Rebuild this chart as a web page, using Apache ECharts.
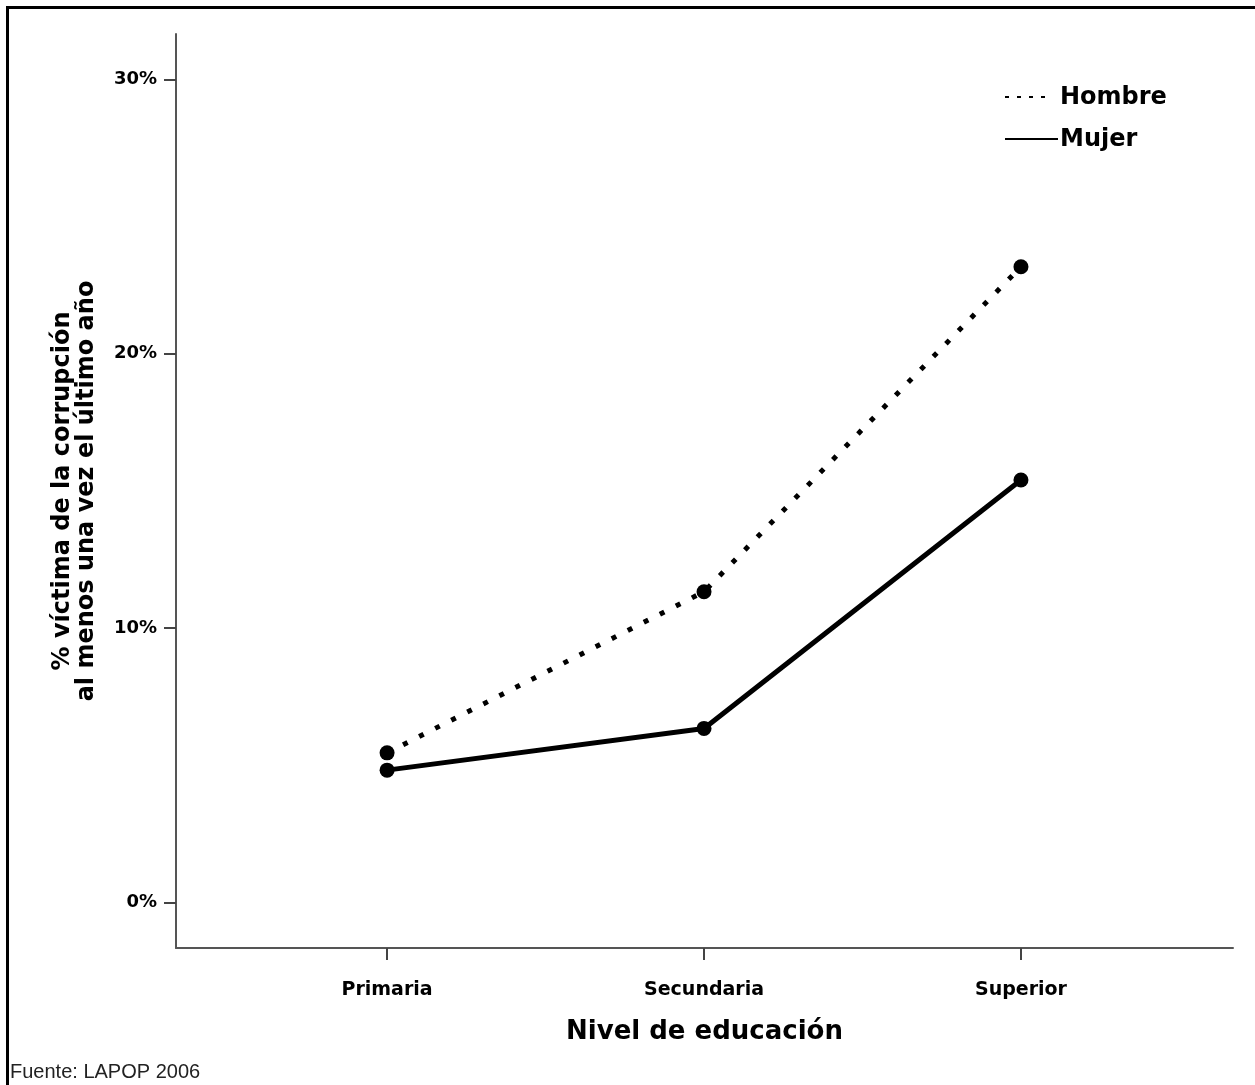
<!DOCTYPE html>
<html>
<head>
<meta charset="utf-8">
<script src="https://cdn.jsdelivr.net/npm/echarts@6/dist/echarts.min.js"></script>
<style>
html,body{margin:0;padding:0;background:#fff;}
#chart{width:1255px;height:1085px;}
</style>
</head>
<body>
<div id="chart"></div>
<script>
const categories = ['Primaria', 'Secundaria', 'Superior'];
const hombre = [5.46, 11.33, 23.17];
const mujer = [4.83, 6.35, 15.40];
const yTicks = [0, 10, 20, 30];
const seriesNames = ['Hombre', 'Mujer'];

const chart = echarts.init(document.getElementById('chart'));
const toPts = arr => arr.map((v, i) => [i, v]);
const heavy = '"DejaVu Sans", "Liberation Sans", sans-serif';

chart.setOption({
  backgroundColor: '#fff',
  animation: false,
  grid: { left: 176, right: 22, top: 34, bottom: 137 },
  xAxis: {
    type: 'value',
    min: -0.666, max: 2.669,
    splitLine: { show: false },
    axisLine: { show: true, onZero: false, lineStyle: { color: '#555', width: 2 } },
    axisTick: { show: true, length: 12, customValues: [0, 1, 2], lineStyle: { color: '#444', width: 2 } },
    axisLabel: {
      customValues: [0, 1, 2],
      formatter: v => categories[Math.round(v)] || '',
      margin: 33, color: '#000', fontSize: 19, fontWeight: 'bold',
      fontFamily: heavy
    },
    name: 'Nivel de educación',
    nameLocation: 'middle', nameGap: 71,
    nameTextStyle: { color: '#000', fontSize: 26, fontWeight: 900, fontFamily: heavy }
  },
  yAxis: {
    type: 'value',
    min: -1.65, max: 31.65,
    splitLine: { show: false },
    axisLine: { show: true, onZero: false, lineStyle: { color: '#555', width: 2 } },
    axisTick: { show: true, length: 12, customValues: yTicks, lineStyle: { color: '#444', width: 2 } },
    axisLabel: {
      customValues: yTicks,
      formatter: v => v + '%',
      margin: 19, color: '#000', fontSize: 18, fontWeight: 'bold',
      fontFamily: heavy, padding: [4, 0, 0, 0]
    },
    name: '% víctima de la corrupción\nal menos una vez el último año',
    nameLocation: 'middle', nameGap: 77,
    nameTextStyle: { color: '#000', fontSize: 24, fontWeight: 900, fontFamily: heavy, lineHeight: 24 }
  },
  series: [
    {
      name: seriesNames[0], type: 'line', data: toPts(hombre),
      symbol: 'circle', symbolSize: 15,
      itemStyle: { color: '#000' },
      lineStyle: { color: '#000', width: 5, type: [5, 13], cap: 'butt' }
    },
    {
      name: seriesNames[1], type: 'line', data: toPts(mujer),
      symbol: 'circle', symbolSize: 15,
      itemStyle: { color: '#000' },
      lineStyle: { color: '#000', width: 5, type: 'solid' }
    }
  ],
  graphic: [
    { type: 'rect', shape: { x: 6, y: 6, width: 1249, height: 3 }, style: { fill: '#000' } },
    { type: 'rect', shape: { x: 6, y: 6, width: 3, height: 1079 }, style: { fill: '#000' } },
    { type: 'line', shape: { x1: 1005, y1: 97, x2: 1050, y2: 97 }, style: { stroke: '#000', lineWidth: 2, lineDash: [4, 8] } },
    { type: 'text', x: 1060, y: 98, style: { text: seriesNames[0], fill: '#000', font: '900 24px "DejaVu Sans", sans-serif', textVerticalAlign: 'middle' } },
    { type: 'line', shape: { x1: 1005, y1: 139, x2: 1058, y2: 139 }, style: { stroke: '#000', lineWidth: 2 } },
    { type: 'text', x: 1060, y: 140, style: { text: seriesNames[1], fill: '#000', font: '900 24px "DejaVu Sans", sans-serif', textVerticalAlign: 'middle' } },
    { type: 'text', x: 10, y: 1082, style: { text: 'Fuente: LAPOP 2006', fill: '#222', font: '20px "Liberation Sans", Arial, sans-serif', textVerticalAlign: 'bottom' } }
  ]
});
</script>
</body>
</html>
